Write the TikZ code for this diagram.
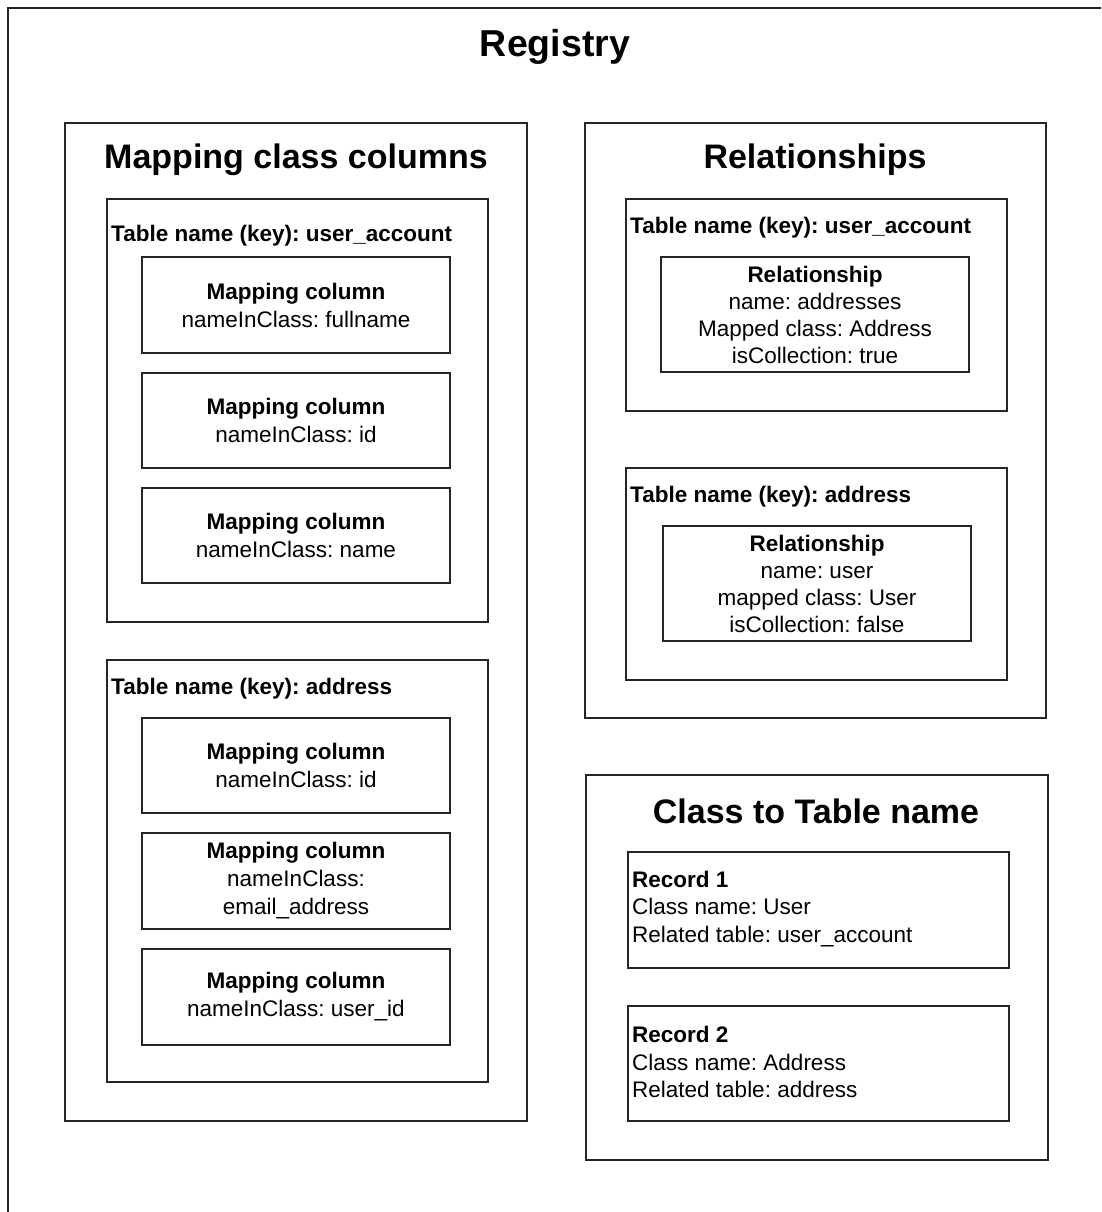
\documentclass[tikz,border=0pt]{standalone}
\usepackage{fontspec}
\setmainfont{Liberation Sans}
\frenchspacing
\begin{document}
\begin{tikzpicture}[x=1pt,y=-1pt,
  frame/.style={draw=black!85, line width=1.5, inner sep=0, outer sep=0},
  entry/.style={frame, align=center, font=\fontsize{22.5}{28}\selectfont},
  maintitle/.style={font=\fontsize{37.5}{40}\selectfont\bfseries, inner sep=0},
  sectitle/.style={font=\fontsize{34}{38}\selectfont\bfseries, inner sep=0},
  tablelbl/.style={anchor=west, inner sep=0, font=\fontsize{22.5}{27}\selectfont\bfseries},
  reclbl/.style={anchor=west, inner sep=0, align=left, font=\fontsize{22.5}{27.5}\selectfont}]
\clip (0,0) rectangle (1101,1212);
\fill[white] (0,0) rectangle (1101,1212);

% Registry frame (runs off the page on the right and bottom)
\node[frame, minimum width=1132, minimum height=1242] (registry) at (574,629) {};
\node[maintitle] (regtitle) at (555,47) {Registry};

% ---- Mapping class columns ----
\node[frame, minimum width=462, minimum height=998] (mcc) at (296,622) {};
\node[sectitle] (mcctitle) at (296,160) {Mapping class columns};

\node[frame, minimum width=381, minimum height=423] (tua) at (297.5,410.5) {};
\node[tablelbl] (tualbl) at (111,236) {Table name (key): user\_account};
\node[entry, minimum width=308, minimum height=96] (mc1) at (296,305)
  {\textbf{Mapping column}\\nameInClass: fullname};
\node[entry, minimum width=308, minimum height=95] (mc2) at (296,420.5)
  {\textbf{Mapping column}\\nameInClass: id};
\node[entry, minimum width=308, minimum height=95] (mc3) at (296,535.5)
  {\textbf{Mapping column}\\nameInClass: name};

\node[frame, minimum width=381, minimum height=422] (tad) at (297.5,871) {};
\node[tablelbl] (tadlbl) at (111,689) {Table name (key): address};
\node[entry, minimum width=308, minimum height=95] (mc4) at (296,765.5)
  {\textbf{Mapping column}\\nameInClass: id};
\node[entry, minimum width=308, minimum height=96] (mc5) at (296,881)
  {\textbf{Mapping column}\\nameInClass:\\email\_address\vphantom{p}};
\node[entry, minimum width=308, minimum height=96] (mc6) at (296,997)
  {\textbf{Mapping column}\\nameInClass: user\_id};

% ---- Relationships ----
\node[frame, minimum width=461, minimum height=595] (rel) at (815.5,420.5) {};
\node[sectitle] (reltitle) at (815,160) {Relationships};

\node[frame, minimum width=381, minimum height=212] (rtua) at (816.5,305) {};
\node[tablelbl] (rtualbl) at (630,228) {Table name (key): user\_account};
\node[entry, minimum width=308, minimum height=115, font=\fontsize{22.5}{27}\selectfont] (r1) at (815,314.5)
  {\textbf{Relationship}\\name: addresses\\Mapped class: Address\\isCollection: true};

\node[frame, minimum width=381, minimum height=212] (rtad) at (816.5,574) {};
\node[tablelbl] (rtadlbl) at (630,497) {Table name (key): address};
\node[entry, minimum width=308, minimum height=115, font=\fontsize{22.5}{27}\selectfont] (r2) at (817,583.5)
  {\textbf{Relationship}\\name: user\\mapped class: User\\isCollection: false};

% ---- Class to Table name ----
\node[frame, minimum width=462, minimum height=385] (ctt) at (817,967.5) {};
\node[sectitle] (ctttitle) at (816,811) {Class to Table name};

\node[frame, minimum width=381, minimum height=116] (rec1) at (818.5,910) {};
\node[reclbl] (rec1t) at (632,909)
  {\textbf{Record 1}\\Class name: User\\Related table: user\_account};

\node[frame, minimum width=381, minimum height=115] (rec2) at (818.5,1063.5) {};
\node[reclbl] (rec2t) at (632,1062)
  {\textbf{Record 2}\\Class name: Address\\Related table: address};
\end{tikzpicture}
\end{document}
